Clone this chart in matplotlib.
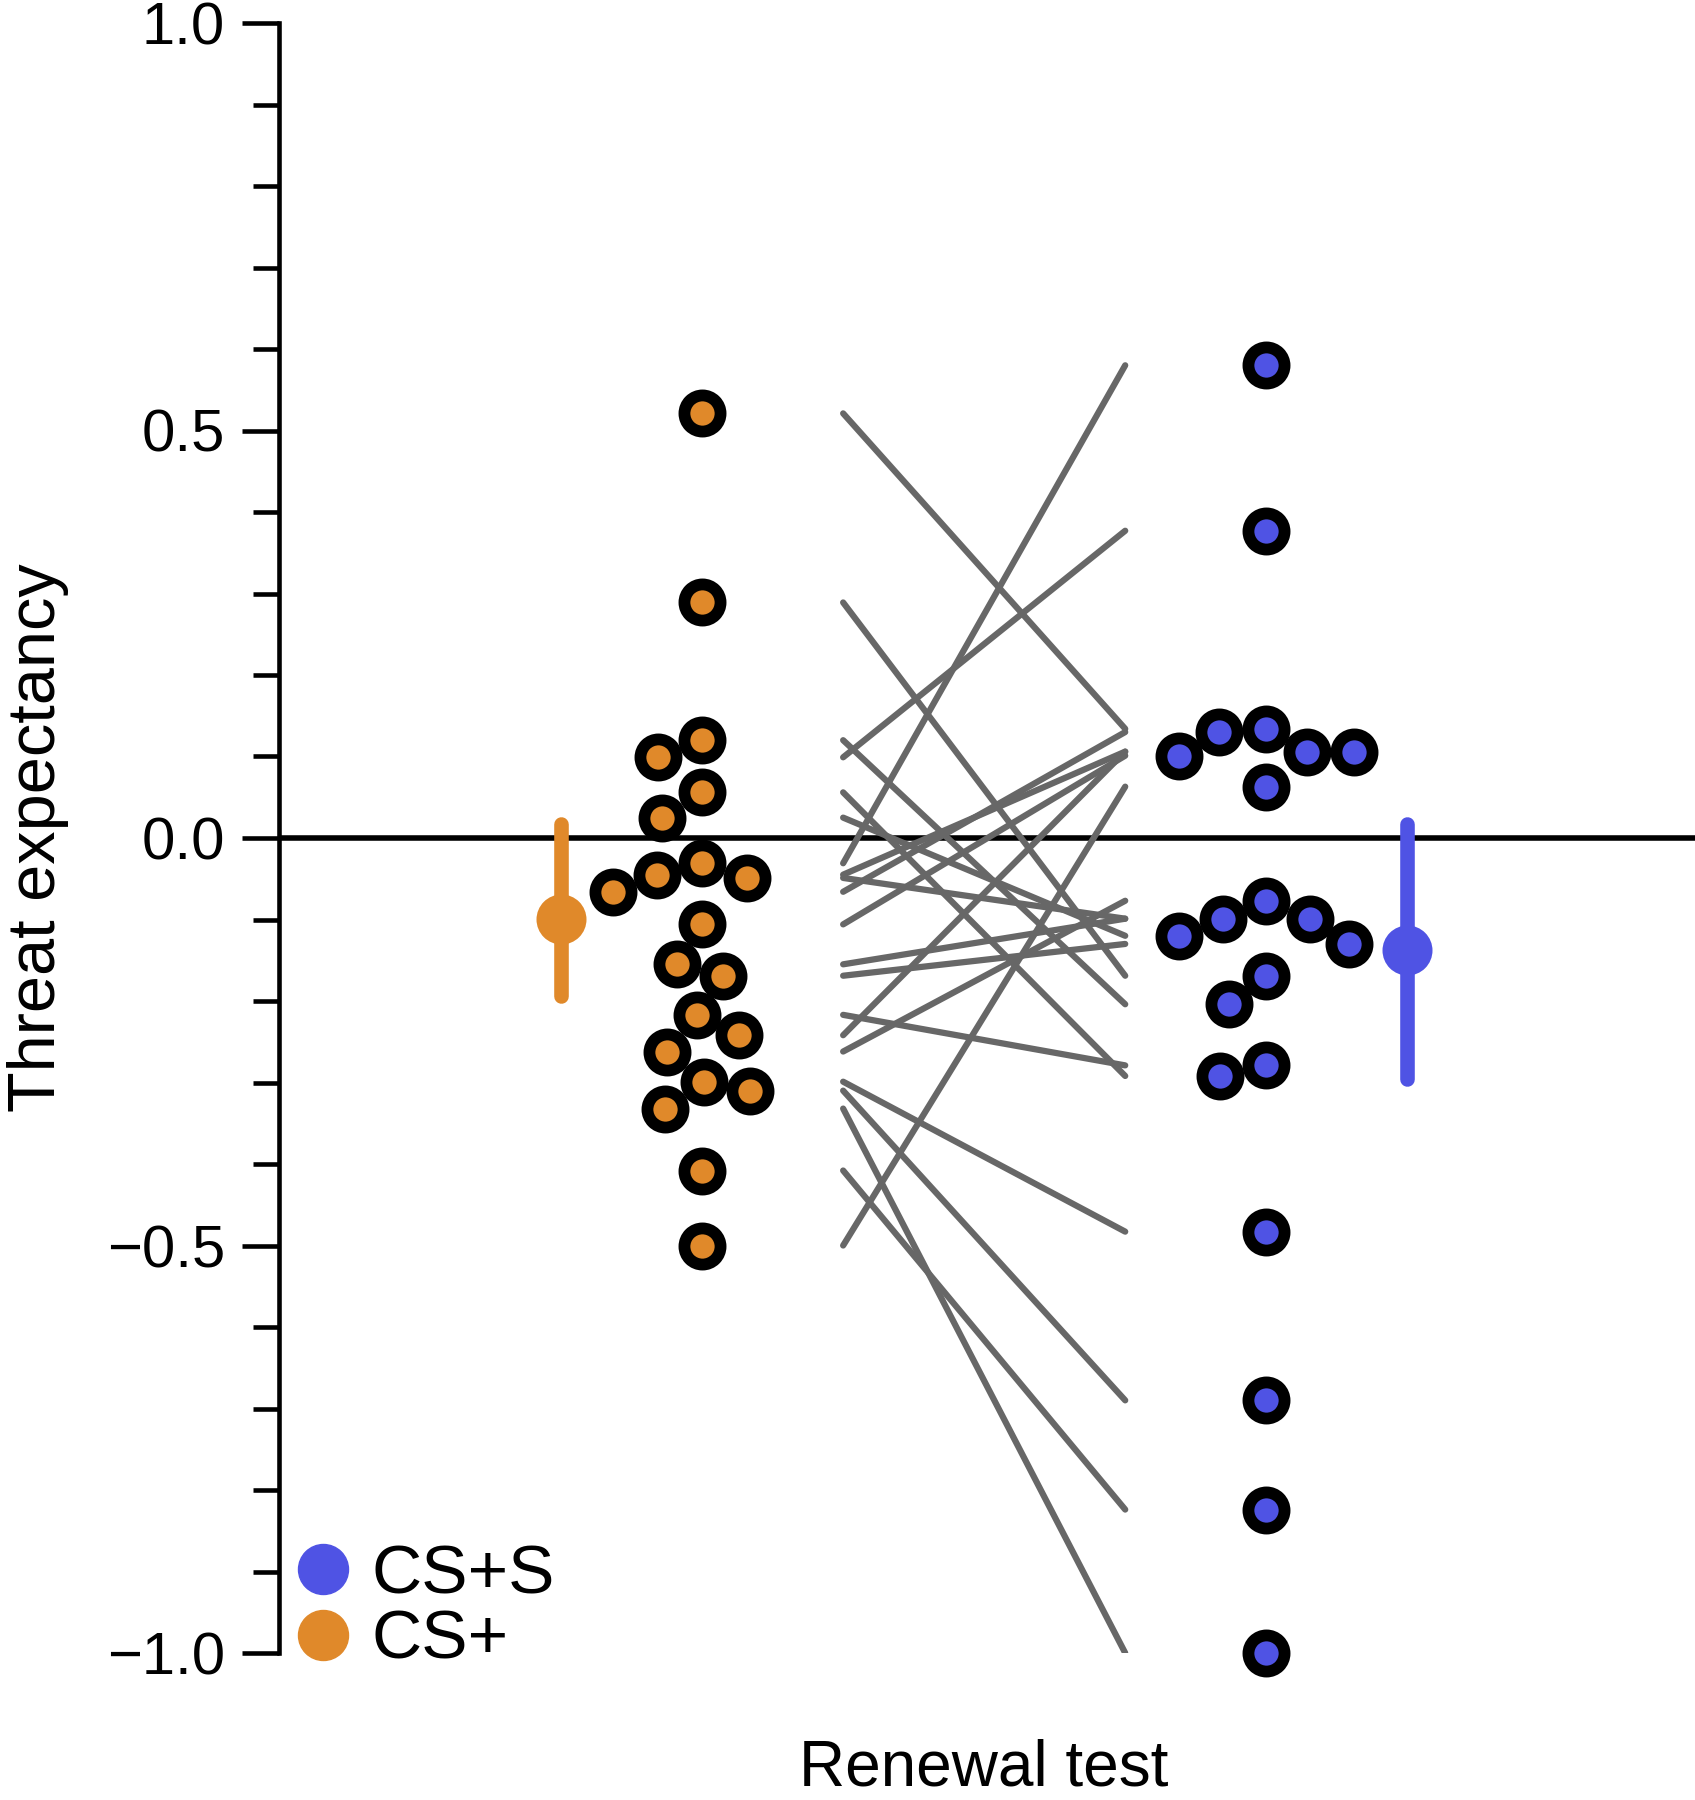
import matplotlib
matplotlib.use("Agg")
import matplotlib.pyplot as plt
import matplotlib.transforms as mtransforms
from matplotlib.lines import Line2D
from matplotlib.ticker import MultipleLocator
import numpy as np

# threat expectancy per subject, renewal test (paired by index)
cs_plus = [0.521, 0.289, 0.120, 0.099, 0.056, 0.025, -0.031, -0.045, -0.049, -0.066, -0.106,
           -0.155, -0.169, -0.217, -0.242, -0.262, -0.299, -0.310, -0.332, -0.408, -0.500]
cs_plus_s = [0.134, -0.169, -0.204, 0.377, -0.292, -0.120, 0.580, 0.106, -0.099, 0.130, 0.101,
             -0.099, -0.130, -0.279, 0.106, -0.077, -0.483, -0.690, -1.000, -0.824, 0.063]

# group means with confidence intervals
means = [-0.099, -0.137]
ci_low = [-0.194, -0.296]
ci_high = [0.017, 0.017]

group_labels = ["CS+", "CS+S"]
orange = "#E0892A"
blue = "#4F53E4"
gray = "#676767"

plt.rcParams['font.family'] = ['Liberation Sans', 'DejaVu Sans']

W, H, DPI = 1695, 1800, 100
fig = plt.figure(figsize=(W / DPI, H / DPI), dpi=DPI)
ax = fig.add_axes([279 / W, 147 / H, 1 - 279 / W, 1630 / H])
ax.set_xlim(-0.75, 1.76)
ax.set_ylim(-1.0, 1.0)

px_per_x = (W - 279) / 2.51
px_per_y = 1630 / 2.0


def swarm(values, d=47.0):
    # simple beeswarm in pixel space, returns x offsets in data units
    order = np.argsort(values)[::-1]
    placed = []
    offs = np.zeros(len(values))
    for i in order:
        y = values[i] * px_per_y
        cands = [0.0]
        for (px, py) in placed:
            dy = y - py
            if abs(dy) < d:
                dx = np.sqrt(d * d - dy * dy)
                cands += [px - dx, px + dx]
        cands.sort(key=lambda v: (abs(v), v))
        for c in cands:
            if all((c - px) ** 2 + (y - py) ** 2 >= d * d - 1e-6 for (px, py) in placed):
                placed.append((c, y))
                offs[i] = c / px_per_x
                break
    return offs


ax.axhline(0, color="black", lw=4, zorder=1)

# paired lines
for a, b in zip(cs_plus, cs_plus_s):
    ax.plot([0.25, 0.75], [a, b], color=gray, lw=4.5, solid_capstyle="round", zorder=2)

centers = [0, 1]
for vals, c, col in zip([cs_plus, cs_plus_s], centers, [orange, blue]):
    xs = c + swarm(np.array(vals))
    ax.plot(xs, vals, "o", ms=26, mfc=col, mec="black", mew=8.5, ls="", zorder=4, clip_on=False)

# mean and CI
for m, lo, hi, c, col in zip(means, ci_low, ci_high, [-0.25, 1.25], [orange, blue]):
    ax.plot([c, c], [lo, hi], color=col, lw=10.5, solid_capstyle="round", zorder=3)
    ax.plot(c, m, "o", ms=36, color=col, mew=0, zorder=3)

for s in ["top", "right", "bottom"]:
    ax.spines[s].set_visible(False)
ax.spines["left"].set_linewidth(3.3)
ax.set_xticks([])
ax.yaxis.set_major_locator(MultipleLocator(0.5))
ax.yaxis.set_minor_locator(MultipleLocator(0.1))
ax.tick_params(axis="y", which="major", length=27, width=3.3, labelsize=43, pad=12)
ax.tick_params(axis="y", which="minor", length=19, width=3.3)

ax.set_ylabel("Threat expectancy", fontsize=48)
ax.yaxis.set_label_coords(-0.148, 0.5)

# x label centred under the paired lines, at the bottom edge of the figure
trans = mtransforms.blended_transform_factory(ax.transData, fig.transFigure)
ax.text(0.5, 14 / H, "Renewal test", transform=trans, fontsize=46,
        ha="center", va="baseline", clip_on=False)

handles = [Line2D([], [], marker="o", ls="", color=blue, ms=36, label=group_labels[1]),
           Line2D([], [], marker="o", ls="", color=orange, ms=36, label=group_labels[0])]
ax.legend(handles=handles, loc="lower left", bbox_to_anchor=(-0.008, -0.025), frameon=False,
          fontsize=50, handletextpad=0.2, labelspacing=0.02, borderpad=0.0,
          borderaxespad=0.3, handlelength=1.0)

fig.savefig("out.png", dpi=DPI)
